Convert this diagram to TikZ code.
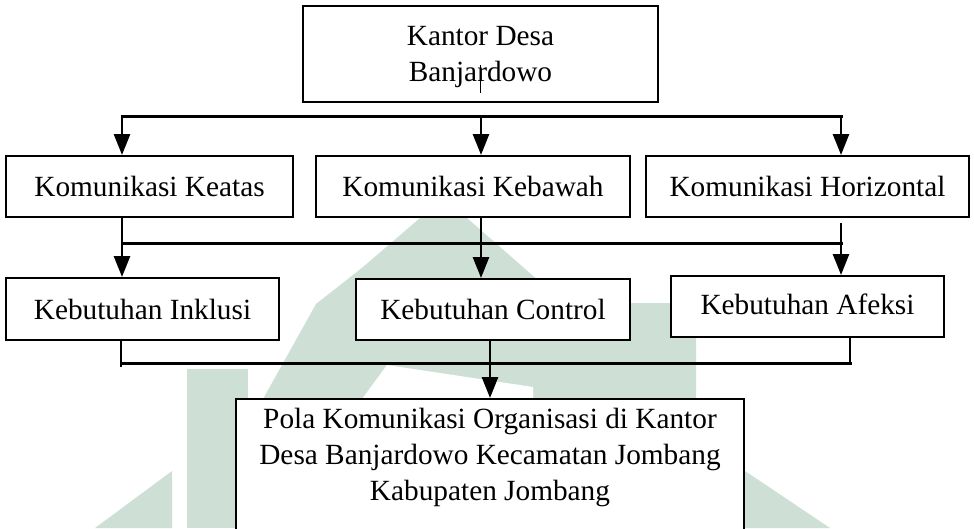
\documentclass[tikz,border=0pt]{standalone}
\usepackage{fontspec}
\setmainfont{Liberation Serif}
\usetikzlibrary{arrows.meta,calc}
\definecolor{wm}{RGB}{206,224,214}
\begin{document}
\begin{tikzpicture}[x=1pt,y=-1pt,
  txt/.style={font=\fontsize{29.3}{36}\selectfont},
  box/.style={draw, line width=2pt, fill=white, inner sep=0pt, align=center, txt},
  bus/.style={line width=3pt, line cap=rect},
  thinline/.style={line width=1.5pt},
  arr/.style={line width=2.6pt, -{Triangle[width=16pt,length=21pt]}},
]
\useasboundingbox (0,0) rectangle (974,528);
\clip (0,0) rectangle (974,528);
% faint watermark
\fill[wm] (444,196) -- (467,218) -- (523,267) -- (564,303) -- (696,303) -- (696,399)
  -- (263,399) -- (316,304) -- (363,267) -- (420,218) -- cycle;
\fill[white] (387,365) -- (533,387) -- (533,399) -- (362,399) -- cycle;
\fill[wm] (533,387) -- (620,387) -- (830,528) -- (744,528) -- cycle;
\fill[wm] (187,369) rectangle (248,528);
\fill[wm] (95,528) -- (172,471) -- (172,528) -- cycle;
% boxes
\node[box, minimum width=355pt, minimum height=96pt] (top) at (480.5,54) {\rule{0pt}{25pt}Kantor Desa\\Banjardowo};
\node[box, minimum width=287pt, minimum height=61pt] (k1) at (149.5,186.5) {Komunikasi Keatas};
\node[box, minimum width=314pt, minimum height=61pt] (k2) at (473,186.5) {Komunikasi Kebawah};
\node[box, minimum width=323pt, minimum height=61pt] (k3) at (807.5,186.5) {Komunikasi Horizontal};
\node[box, minimum width=273pt, minimum height=62pt] (n1) at (142.5,309) {Kebutuhan Inklusi};
\node[box, minimum width=274pt, minimum height=61pt] (n2) at (493,309.5) {Kebutuhan Control};
\node[box, minimum width=273pt, minimum height=61pt] (n3) at (807.5,306.5) {\raisebox{5pt}{Kebutuhan Afeksi}};
\node[box, minimum width=508pt, minimum height=160pt] (pola) at (490,479) {};
\node[txt, align=center, inner sep=0pt] (polatext) at (490,457)
  {Pola Komunikasi Organisasi di Kantor\\Desa Banjardowo Kecamatan Jombang\\Kabupaten Jombang};
% stray stroke inside the top box
\coordinate (s0a) at ($(top.center)+(0,11)$);
\coordinate (s0b) at ($(top.center)+(0,39)$);
\draw[thinline] (s0a) -- (s0b);
% first bus
\coordinate (u1) at (122,116);
\coordinate (u2) at (481,116);
\coordinate (u3) at (841,116);
\draw[bus] (u1) -- (u3);
\draw[arr] (u1) -- (u1 |- k1.north);
\draw[arr] (u2) -- (u2 |- k2.north);
\draw[arr] (u3) -- (u3 |- k3.north);
% second bus
\coordinate (v1) at (122,243);
\coordinate (v2) at (481,243);
\coordinate (v3) at (841,243);
\coordinate (v3t) at (841,223);
\draw[thinline] (v1 |- k1.south) -- (v1);
\draw[thinline] (v2 |- k2.south) -- (v2);
\draw[thinline] (v3t) -- (v3);
\draw[bus] (v1) -- (v3);
\draw[arr] (v1) -- (v1 |- n1.north);
\draw[arr] (v2) -- (v2 |- n2.north);
\draw[arr] (v3) -- (v3 |- n3.north);
% third bus
\coordinate (w1) at (121,363);
\coordinate (w1e) at (121,367);
\coordinate (w2) at (490,363);
\coordinate (w3) at (850,363);
\draw[thinline] (w1 |- n1.south) -- (w1e);
\draw[thinline] (w2 |- n2.south) -- (w2);
\draw[thinline] (w3 |- n3.south) -- (w3);
\draw[bus] (w1) -- (w3);
\draw[arr] (w2) -- (w2 |- pola.north);
\end{tikzpicture}
\end{document}
